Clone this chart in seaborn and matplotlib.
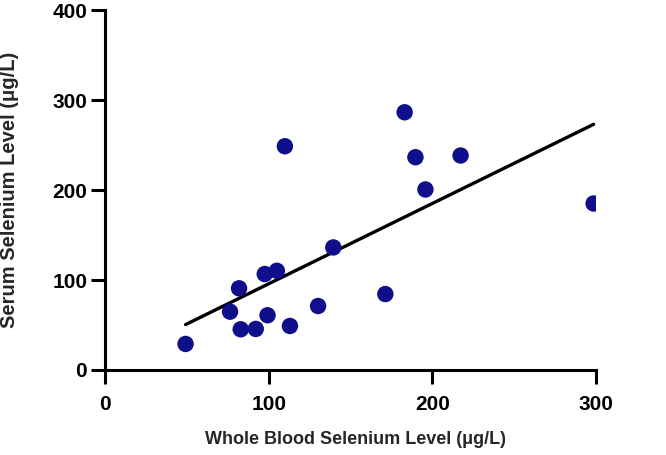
import numpy as np
import pandas as pd
from matplotlib import pyplot as plt
import seaborn as sns

whole_blood = [49.1, 76.3, 81.8, 82.8, 92.0, 97.5, 99.2, 104.9, 109.8, 112.9,
               130.1, 139.4, 171.2, 183.0, 189.6, 195.7, 217.2, 298.5]
serum = [28.9, 64.8, 90.8, 45.2, 45.6, 106.7, 60.8, 110.3, 248.9, 48.9,
         71.1, 136.3, 84.4, 286.7, 236.7, 200.8, 238.6, 185.2]

df = pd.DataFrame({"whole_blood": whole_blood, "serum": serum})

sns.set_style("ticks")
plt.rcParams["font.family"] = ["Liberation Sans", "DejaVu Sans"]
plt.rcParams["font.weight"] = "bold"

fig = plt.figure(figsize=(6.66, 4.55), dpi=100)
ax = fig.add_axes([0.158, 0.187, 0.737, 0.790])

sns.regplot(
    data=df,
    x="whole_blood",
    y="serum",
    ci=None,
    ax=ax,
    scatter_kws={"s": 140, "color": "#0f0f8c", "alpha": 1, "edgecolor": "none", "zorder": 3},
    line_kws={"color": "black", "lw": 2.4, "zorder": 2},
)

ax.set_xlim(0, 300)
ax.set_ylim(0, 400)
ax.set_xticks([0, 100, 200, 300])
ax.set_yticks([0, 100, 200, 300, 400])
ax.set_xlabel("Whole Blood Selenium Level (\u03bcg/L)", fontsize=13, fontweight="bold")
ax.set_ylabel("Serum Selenium Level (\u03bcg/L)", fontsize=14.5, fontweight="bold")
ax.xaxis.set_label_coords(0.51, -0.17)
ax.yaxis.set_label_coords(-0.175, 0.5)
ax.tick_params(labelsize=15, width=2.2, length=10, color="black", labelcolor="black")
ax.tick_params(axis="x", pad=8)
ax.tick_params(axis="y", pad=3)
for lab in ax.get_xticklabels() + ax.get_yticklabels():
    lab.set_fontweight("bold")
for s in ["left", "bottom"]:
    ax.spines[s].set_linewidth(2.2)
    ax.spines[s].set_color("black")
sns.despine(ax=ax)

fig.savefig("out.png", dpi=100)
